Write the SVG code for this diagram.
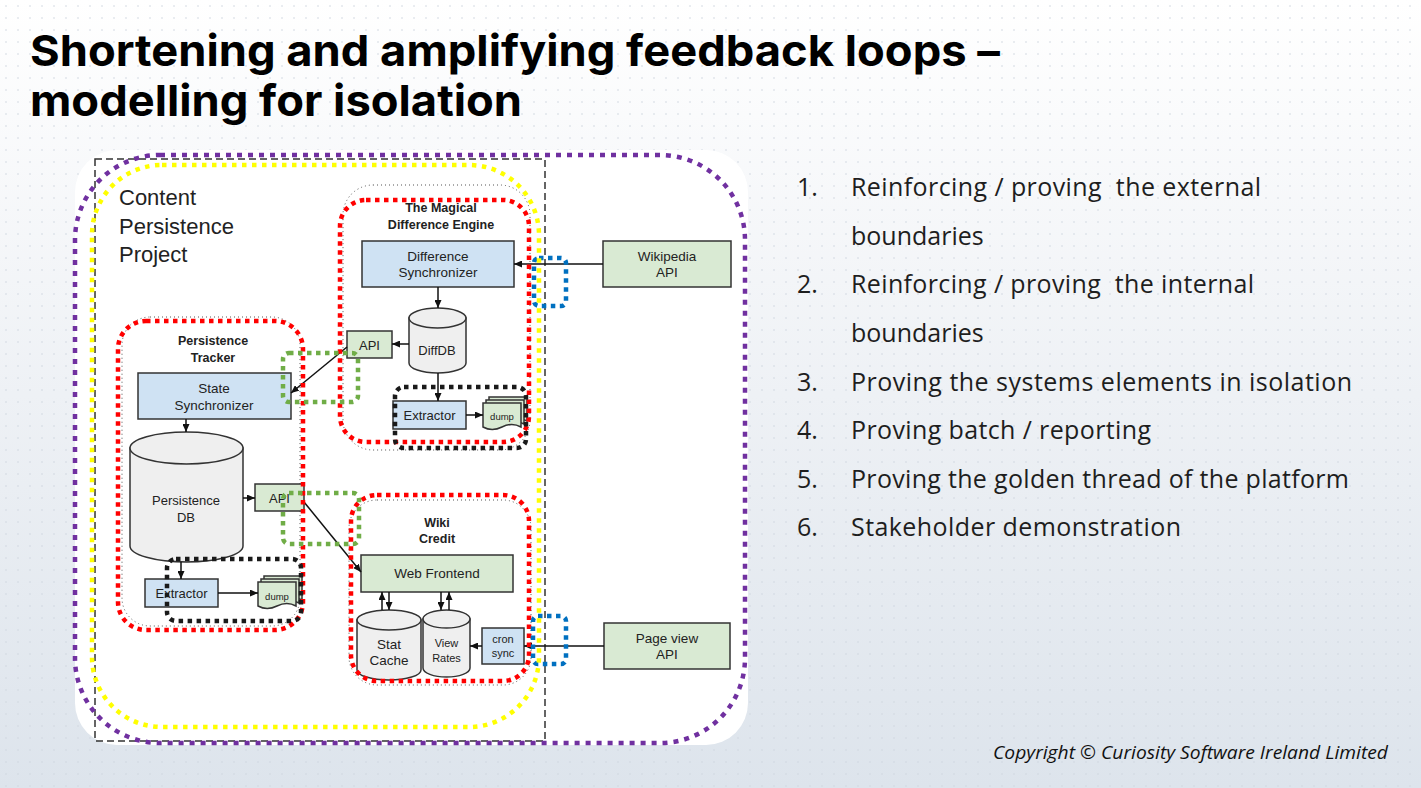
<svg xmlns="http://www.w3.org/2000/svg" width="1421" height="788" viewBox="0 0 1421 788">
<defs>
<linearGradient id="bg" x1="0" y1="0" x2="0" y2="1">
<stop offset="0" stop-color="#ffffff"/>
<stop offset="0.5" stop-color="#eef1f5"/>
<stop offset="1" stop-color="#dde4ec"/>
</linearGradient>
<pattern id="dots" width="12" height="12" patternUnits="userSpaceOnUse">
<circle cx="6" cy="6" r="0.8" fill="#cfd6df"/>
</pattern>
<marker id="ah" markerUnits="userSpaceOnUse" markerWidth="8" markerHeight="7" refX="8" refY="3.5" orient="auto">
<path d="M0,0 L8,3.5 L0,7 z" fill="#111"/>
</marker>
<g id="dumpShape">
<path d="M6,0 h38 v24 q-9,-5 -19,0 t-19,0 z"/>
<path d="M3,3 h38 v24 q-9,-5 -19,0 t-19,0 z"/>
<path d="M0,6 h38 v24 q-9,-5 -19,0 t-19,0 z"/>
</g>
</defs>
<style>
.box{stroke:#333;stroke-width:1.5}
.blue{fill:#cfe2f3}
.green{fill:#d9ead3}
.cyl{fill:#efefef;stroke:#333;stroke-width:1.5}
.t{font-family:"Liberation Sans",Arial,sans-serif;fill:#222;text-anchor:middle}
.tl{font-family:"Liberation Sans",Arial,sans-serif;fill:#222;font-size:22px}
.tb{font-family:"Liberation Sans",Arial,sans-serif;fill:#222;text-anchor:middle;font-weight:bold}
.conn line{stroke:#111;stroke-width:1.5;marker-end:url(#ah)}
.gray{fill:none;stroke:#555;stroke-width:1;stroke-dasharray:1 3}
.red{fill:none;stroke:#ff0000;stroke-width:4.5;stroke-dasharray:4.5 4.5}
.blk{fill:none;stroke:#1a1a1a;stroke-width:4.5;stroke-dasharray:4.5 4.5}
.grn{fill:none;stroke:#70ad47;stroke-width:4.5;stroke-dasharray:4.5 4.5}
.blu{fill:none;stroke:#0070c0;stroke-width:4.5;stroke-dasharray:4.5 4.5}
.list{font-family:"Open Sans","Noto Sans",sans-serif;font-size:25px;fill:#1e1e1e}
</style>

<rect x="0" y="0" width="1421" height="788" fill="url(#bg)"/>
<rect x="0" y="0" width="1421" height="788" fill="url(#dots)"/>

<g id="title" font-family="Inter,'Liberation Sans',sans-serif" font-weight="700" font-size="43" fill="#000">
<text x="30" y="66" textLength="970" lengthAdjust="spacingAndGlyphs">Shortening and amplifying feedback loops –</text>
<text x="30" y="116" textLength="492" lengthAdjust="spacingAndGlyphs">modelling for isolation</text>
</g>

<rect id="panel" x="75" y="150" width="673" height="595" rx="42" fill="#ffffff"/>

<g id="project-boundary">
<rect x="95" y="159" width="450" height="582" fill="none" stroke="#333" stroke-width="1.5" stroke-dasharray="7 4"/>
<text class="tl" x="119" y="205">Content</text>
<text class="tl" x="119" y="234">Persistence</text>
<text class="tl" x="119" y="262">Project</text>
</g>

<g id="magical-difference-engine">
<rect class="gray" x="343" y="185" width="187" height="265" rx="30"/>
<text class="tb" x="441" y="212" font-size="12.5">The Magical</text>
<text class="tb" x="441" y="229" font-size="12.5">Difference Engine</text>
</g>
<g id="difference-synchronizer">
<rect class="box blue" x="362" y="241" width="152" height="46"/>
<text class="t" x="438" y="261" font-size="13.5">Difference</text>
<text class="t" x="438" y="277" font-size="13.5">Synchronizer</text>
</g>
<g id="diffdb">
<path class="cyl" d="M409,318 V363 A28.5,10 0 0 0 466,363 V318 Z"/>
<ellipse class="cyl" cx="437.5" cy="318" rx="28.5" ry="10"/>
<text class="t" x="437" y="355" font-size="13">DiffDB</text>
</g>
<g id="api-upper">
<rect class="box green" x="347" y="331" width="45" height="27"/>
<text class="t" x="369.5" y="350" font-size="13">API</text>
</g>
<g id="extractor-upper">
<rect class="box blue" x="393" y="401" width="73" height="28"/>
<text class="t" x="429.5" y="420" font-size="13">Extractor</text>
</g>
<g id="dump-upper">
<use href="#dumpShape" x="483" y="397" class="box green"/>
<text class="t" x="502" y="420" font-size="9.5">dump</text>
</g>

<g id="wikipedia-api">
<rect class="box green" x="603" y="241" width="128" height="46"/>
<text class="t" x="667" y="261" font-size="13.5">Wikipedia</text>
<text class="t" x="667" y="277" font-size="13.5">API</text>
</g>

<g id="persistence-tracker">
<rect class="gray" x="122" y="317" width="178" height="309" rx="28"/>
<text class="tb" x="213" y="345" font-size="12.5">Persistence</text>
<text class="tb" x="213" y="362" font-size="12.5">Tracker</text>
</g>
<g id="state-synchronizer">
<rect class="box blue" x="138" y="373" width="153" height="46"/>
<text class="t" x="214" y="393" font-size="13.5">State</text>
<text class="t" x="214" y="410" font-size="13.5">Synchronizer</text>
</g>
<g id="persistence-db">
<path class="cyl" d="M130,448 V546 A56.5,16 0 0 0 243,546 V448 Z"/>
<ellipse class="cyl" cx="186.5" cy="448" rx="56.5" ry="16"/>
<text class="t" x="186" y="505" font-size="13">Persistence</text>
<text class="t" x="186" y="522" font-size="13">DB</text>
</g>
<g id="api-lower">
<rect class="box green" x="255" y="484" width="49" height="27"/>
<text class="t" x="279.5" y="503" font-size="13">API</text>
</g>
<g id="extractor-lower">
<rect class="box blue" x="145" y="579" width="73" height="28"/>
<text class="t" x="181.5" y="598" font-size="13">Extractor</text>
</g>
<g id="dump-lower">
<use href="#dumpShape" x="258" y="576" class="box green"/>
<text class="t" x="277" y="600" font-size="9.5">dump</text>
</g>

<g id="wiki-credit">
<rect class="gray" x="349" y="500" width="182" height="185" rx="28"/>
<text class="tb" x="437" y="527" font-size="12.5">Wiki</text>
<text class="tb" x="437" y="543" font-size="12.5">Credit</text>
</g>
<g id="web-frontend">
<rect class="box green" x="361" y="555" width="152" height="37"/>
<text class="t" x="437" y="578" font-size="13.5">Web Frontend</text>
</g>
<g id="stat-cache">
<path class="cyl" d="M357,620 V670 A32,10 0 0 0 421,670 V620 Z"/>
<ellipse class="cyl" cx="389" cy="620" rx="32" ry="10"/>
<text class="t" x="389" y="649" font-size="13.5">Stat</text>
<text class="t" x="389" y="665" font-size="13.5">Cache</text>
</g>
<g id="view-rates">
<path class="cyl" d="M423,619 V668 A23.5,9 0 0 0 470,668 V619 Z"/>
<ellipse class="cyl" cx="446.5" cy="619" rx="23.5" ry="9"/>
<text class="t" x="446.5" y="647" font-size="11">View</text>
<text class="t" x="446.5" y="662" font-size="11">Rates</text>
</g>
<g id="cron-sync">
<rect class="box blue" x="482" y="628" width="42" height="36"/>
<text class="t" x="503" y="643" font-size="11">cron</text>
<text class="t" x="503" y="657" font-size="11">sync</text>
</g>
<g id="page-view-api">
<rect class="box green" x="604" y="623" width="126" height="46"/>
<text class="t" x="667" y="643" font-size="13.5">Page view</text>
<text class="t" x="667" y="659" font-size="13.5">API</text>
</g>

<g id="connectors" class="conn">
<line x1="603" y1="264" x2="514" y2="264"/>
<line x1="438" y1="287" x2="438" y2="308"/>
<line x1="409" y1="344" x2="392" y2="344"/>
<line x1="438" y1="373" x2="438" y2="401"/>
<line x1="466" y1="415" x2="483" y2="415"/>
<line x1="347" y1="347" x2="291" y2="393"/>
<line x1="186" y1="419" x2="186" y2="432"/>
<line x1="243" y1="498" x2="255" y2="498"/>
<line x1="181" y1="562" x2="181" y2="579"/>
<line x1="218" y1="593" x2="258" y2="593"/>
<line x1="304" y1="502" x2="361" y2="572"/>
<line x1="382" y1="610" x2="382" y2="592"/>
<line x1="389" y1="592" x2="389" y2="610"/>
<line x1="441" y1="592" x2="441" y2="610"/>
<line x1="449" y1="610" x2="449" y2="592"/>
<line x1="482" y1="646" x2="470" y2="646"/>
<line x1="604" y1="646" x2="524" y2="646"/>
</g>

<g id="overlays">
<rect class="red" x="340" y="200" width="189" height="242" rx="26"/>
<rect class="red" x="118" y="321" width="185" height="309" rx="28"/>
<rect class="red" x="351" y="495" width="178" height="186" rx="26"/>
<rect class="blk" x="395" y="387" width="131" height="61" rx="9"/>
<rect class="blk" x="167" y="559" width="134" height="62" rx="9"/>
<rect class="grn" x="283" y="353" width="75" height="49" rx="6"/>
<rect class="grn" x="283" y="493" width="76" height="51" rx="6"/>
<rect class="blu" x="534" y="258" width="32" height="48" rx="5"/>
<rect class="blu" x="533" y="616" width="33" height="48" rx="5"/>
<rect x="92" y="165" width="447" height="562" rx="70" fill="none" stroke="#ffff00" stroke-width="4.5" stroke-dasharray="4.5 5.5"/>
<rect x="75" y="155" width="670" height="588" rx="85" fill="none" stroke="#7030a0" stroke-width="4.5" stroke-dasharray="5 6"/>
</g>

<g id="list">
<text class="list" x="797" y="196">1.</text>
<text class="list" x="851" y="196" textLength="410" xml:space="preserve">Reinforcing / proving  the external</text>
<text class="list" x="851" y="245">boundaries</text>
<text class="list" x="797" y="293">2.</text>
<text class="list" x="851" y="293" textLength="403" xml:space="preserve">Reinforcing / proving  the internal</text>
<text class="list" x="851" y="342">boundaries</text>
<text class="list" x="797" y="391">3.</text>
<text class="list" x="851" y="391" textLength="501">Proving the systems elements in isolation</text>
<text class="list" x="797" y="439">4.</text>
<text class="list" x="851" y="439" textLength="300">Proving batch / reporting</text>
<text class="list" x="797" y="488">5.</text>
<text class="list" x="851" y="488" textLength="498">Proving the golden thread of the platform</text>
<text class="list" x="797" y="536">6.</text>
<text class="list" x="851" y="536" textLength="330">Stakeholder demonstration</text>
</g>

<text id="copyright" x="993" y="759" font-family="'Open Sans','Liberation Sans',sans-serif" font-style="italic" font-size="18.5" fill="#111" textLength="395" lengthAdjust="spacingAndGlyphs">Copyright © Curiosity Software Ireland Limited</text>
</svg>
